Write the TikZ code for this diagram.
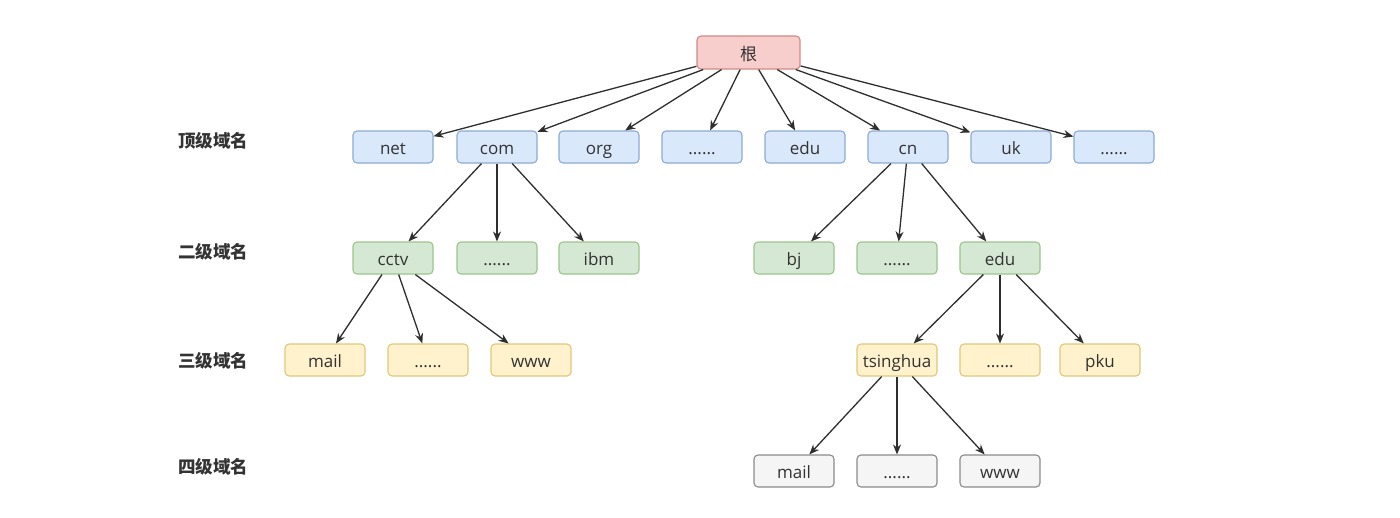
\documentclass[tikz,border=0pt]{standalone}
\usepackage{fontspec}
\setmainfont{Open Sans}
\newfontfamily\cjk{Noto Sans CJK SC}
\usetikzlibrary{arrows.meta}
\definecolor{txt}{HTML}{333333}
\definecolor{redF}{HTML}{F8CECC}\definecolor{redD}{HTML}{D08A87}
\definecolor{bluF}{HTML}{DAE8FC}\definecolor{bluD}{HTML}{8DAAD3}
\definecolor{grnF}{HTML}{D5E8D4}\definecolor{grnD}{HTML}{9DC48C}
\definecolor{ylwF}{HTML}{FFF2CC}\definecolor{ylwD}{HTML}{E0C87A}
\definecolor{gryF}{HTML}{F5F5F5}\definecolor{gryD}{HTML}{8A8A8A}
\definecolor{edge}{HTML}{2E2E2E}
\tikzset{
  box/.style={draw, rounded corners=4pt, line width=1.1pt, minimum width=80pt, minimum height=32pt,
    inner sep=0pt, text height=14pt, text depth=0pt, text=txt, font=\fontsize{17}{19}\selectfont},
  rootbox/.style={box, fill=redF, draw=redD, minimum width=103pt, minimum height=33pt,
    text height=16pt, text depth=0pt, font=\cjk\fontsize{17}{19}\selectfont},
  lvA/.style={box, fill=bluF, draw=bluD},
  lvB/.style={box, fill=grnF, draw=grnD},
  lvC/.style={box, fill=ylwF, draw=ylwD},
  lvD/.style={box, fill=gryF, draw=gryD},
  lbl/.style={text=txt, font=\cjk\bfseries\fontsize{17.5}{19}\selectfont},
  arr/.style={draw=edge, line width=1.3pt, -{Stealth[length=10pt,width=8pt]}},
}
\begin{document}
\begin{tikzpicture}[x=1pt,y=-1pt]
\useasboundingbox (0,0) rectangle (1400,517);
\node[rootbox] (root) at (748.5,52.5) {根};
% top level
\node[lvA] (net) at (393,147) {net};
\node[lvA] (com) at (497,147) {com};
\node[lvA] (org) at (599,147) {org};
\node[lvA] (dA) at (702,147) {......};
\node[lvA] (edu) at (805,147) {edu};
\node[lvA] (cn) at (908,147) {cn};
\node[lvA] (uk) at (1011,147) {uk};
\node[lvA] (dB) at (1114,147) {......};
% second level
\node[lvB] (cctv) at (393,258) {cctv};
\node[lvB] (dC) at (497,258) {......};
\node[lvB] (ibm) at (599,258) {ibm};
\node[lvB] (bj) at (794,258) {bj};
\node[lvB] (dD) at (897,258) {......};
\node[lvB] (edu2) at (1000,258) {edu};
% third level
\node[lvC] (mail) at (325,360) {mail};
\node[lvC] (dE) at (428,360) {......};
\node[lvC] (www) at (531,360) {www};
\node[lvC] (tsinghua) at (897,360) {tsinghua};
\node[lvC] (dF) at (1000,360) {......};
\node[lvC] (pku) at (1100,360) {pku};
% fourth level
\node[lvD] (mail2) at (794,471) {mail};
\node[lvD] (dG) at (897,471) {......};
\node[lvD] (www2) at (1000,471) {www};
% labels
\node[lbl] (l1) at (213,141) {顶级域名};
\node[lbl] (l2) at (213,252) {二级域名};
\node[lbl] (l3) at (213,361) {三级域名};
\node[lbl] (l4) at (213,467) {四级域名};
% edges
\foreach \c in {net,com,org,dA,edu,cn,uk,dB} \draw[arr] (root) -- (\c);
\foreach \c in {cctv,dC,ibm} \draw[arr] (com) -- (\c);
\foreach \c in {bj,dD,edu2} \draw[arr] (cn) -- (\c);
\foreach \c in {mail,dE,www} \draw[arr] (cctv) -- (\c);
\foreach \c in {tsinghua,dF,pku} \draw[arr] (edu2) -- (\c);
\foreach \c in {mail2,dG,www2} \draw[arr] (tsinghua) -- (\c);
\end{tikzpicture}
\end{document}
